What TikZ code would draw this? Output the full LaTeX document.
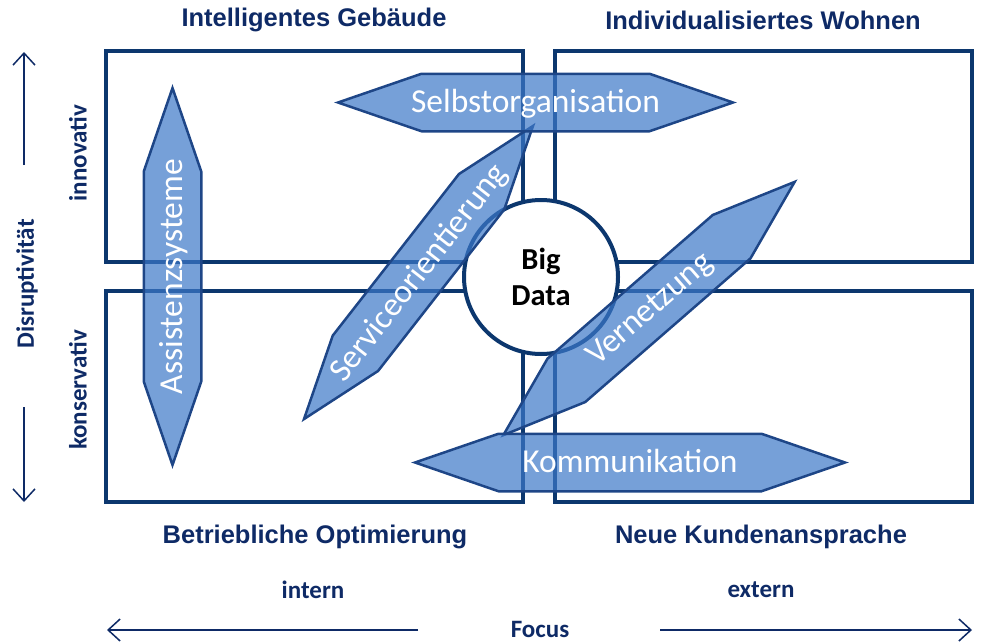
\documentclass[tikz,border=0pt]{standalone}
\usepackage{fontspec}
\setmainfont{Carlito}
\newfontfamily\headfont{Liberation Sans}
\usepackage{tikz}
\usetikzlibrary{shapes.arrows}
\usetikzlibrary{arrows.meta}

\definecolor{navy}{RGB}{14,42,102}
\definecolor{boxline}{RGB}{12,55,110}
\definecolor{blockfill}{RGB}{60,120,200}
\definecolor{blockline}{RGB}{30,70,135}

\tikzset{
  quadrant/.style={draw=boxline, line width=4.5pt, minimum width=417pt, minimum height=211pt, inner sep=0pt},
  blockarrow/.style={double arrow, double arrow head extend=0pt, double arrow tip angle=38,
    draw=blockline, line width=2.5pt, fill=blockfill, fill opacity=0.7, text opacity=1,
    minimum width=55pt, inner sep=0pt, text=white, font=\fontsize{33.5}{36}\selectfont},
  headline/.style={text=navy, font=\headfont\bfseries\fontsize{25.5}{28}\selectfont},
  axislabel/.style={text=navy, font=\bfseries\fontsize{25}{28}\selectfont},
  axisarrow/.style={draw=navy, line width=1.5pt, -{Straight Barb[length=12pt,width=22pt]}}
}
\newcommand{\arrowtext}[1]{\rule[-17.5pt]{0pt}{55pt}\makebox[0pt]{#1}}

\begin{document}
\begin{tikzpicture}[x=1pt, y=-1pt]
    \useasboundingbox (0,0) rectangle (981,642);

    % four fields
    \node[quadrant] (tl) at (314.5,156.5) {};
    \node[quadrant] (tr) at (763.5,156.5) {};
    \node[quadrant] (bl) at (314.5,396.5) {};
    \node[quadrant] (br) at (763.5,396.5) {};

    \node[circle, draw=boxline, line width=4pt, fill=white, minimum size=154pt, inner sep=0pt,
          align=center, font=\bfseries\fontsize{30.5}{36}\selectfont] (bigdata) at (541,277) {Big\\Data};

    % field titles
    \node[headline] (tlt) at (314,20)  {Intelligentes Gebäude};
    \node[headline] (trt) at (763,20)  {Individualisiertes Wohnen};
    \node[headline] (blt) at (315,537) {Betriebliche Optimierung};
    \node[headline] (brt) at (761,537) {Neue Kundenansprache};

    % axes
    \node[axislabel, rotate=90] (inno) at (78,153)  {innovativ};
    \node[axislabel, rotate=90] (kons) at (78,390)  {konservativ};
    \node[axislabel, rotate=90] (disr) at (27,284)  {Disruptivität};
    \node[axislabel] (intern) at (313,590) {intern};
    \node[axislabel] (extern) at (761,590) {extern};
    \node[axislabel] (focus)  at (540,629) {Focus};

    \coordinate (upS) at (24,165);
    \coordinate (upE) at (24,52);
    \coordinate (downS) at (24,407);
    \coordinate (downE) at (24,502);
    \coordinate (leftS) at (418,630);
    \coordinate (leftE) at (107,630);
    \coordinate (rightS) at (660,630);
    \coordinate (rightE) at (972,630);

    \draw[axisarrow] (upS) -- (upE);
    \draw[axisarrow] (downS) -- (downE);
    \draw[axisarrow] (leftS) -- (leftE);
    \draw[axisarrow] (rightS) -- (rightE);

    % block arrows
    \node[blockarrow, minimum height=377pt, rotate=90] (assist)  at (172.5,276.5) {\arrowtext{Assistenzsysteme}};
    \node[blockarrow, minimum height=372pt, rotate=52] (service) at (418.5,272.5) {\arrowtext{Serviceorientierung}};
    \node[blockarrow, minimum height=386pt, rotate=41] (vernetz) at (649,308.5)   {\arrowtext{Vernetzung}};
    \node[blockarrow, minimum height=395pt] (selbst) at (535.5,102.5) {\arrowtext{Selbstorganisation}};
    \node[blockarrow, minimum height=430pt] (kommu)  at (630,462.5)   {\arrowtext{Kommunikation}};
\end{tikzpicture}
\end{document}
